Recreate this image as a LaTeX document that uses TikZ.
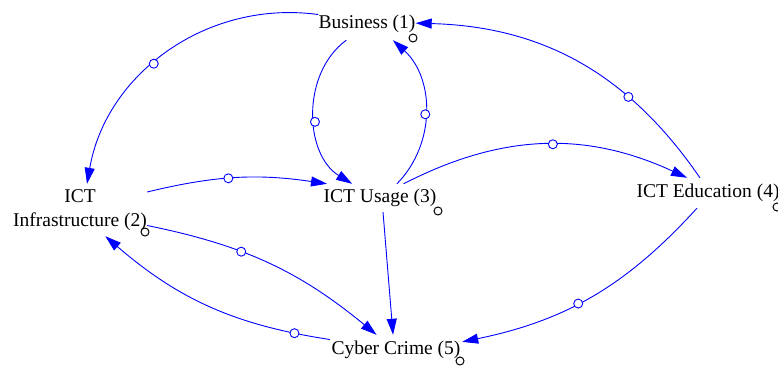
\documentclass[tikz,border=0pt]{standalone}
\usepackage{fontspec}
\setmainfont{Liberation Serif}
\usetikzlibrary{arrows.meta}
\definecolor{linkblue}{RGB}{0,0,255}
\tikzstyle{var} = [rectangle, inner sep=0pt, text centered, font=\fontsize{19.5}{24}\selectfont]
\tikzstyle{link} = [draw=linkblue, line width=0.9pt, -{Triangle[length=16pt,width=10pt]}]
\tikzstyle{valve} = [circle, draw=linkblue, fill=white, line width=0.9pt, inner sep=0pt, minimum size=9pt]
\tikzstyle{handle} = [draw=black, line width=1pt, fill=white]

\begin{document}
\begin{tikzpicture}
[x=1pt, y=1pt]
\useasboundingbox (0,0) rectangle (778,365);

\node (bus) [var, minimum width=96pt, minimum height=32pt] at (367,341) {Business (1)};
\node (inf) [var, align=center, minimum width=134pt, minimum height=52pt] at (80,155) {ICT\\Infrastructure (2)};
\node (use) [var, minimum width=114pt, minimum height=28pt] at (380,167) {ICT Usage (3)};
\node (edu) [var, minimum width=140pt, minimum height=30pt] at (708,172) {ICT Education (4)};
\node (cyb) [var, minimum width=132pt, minimum height=30pt] at (396,15) {Cyber Crime (5)};

\draw [link] (bus.169) to [bend right=44] node [valve, pos=0.56] {} (inf.75);
\draw [link] (bus.218) to [bend right=56] node [valve, pos=0.55] {} (use.153);
\draw [link] (use.40) to [bend right=46] node [valve, pos=0.48] {} (bus.328);
\draw [link] (inf.15) to [bend left=11] node [valve, pos=0.45] {} (use.165);
\draw [link] (use.31) to [bend left=26] node [valve, pos=0.53] {} (edu.144);
\draw [link] (edu.118) to [bend right=27] node [valve, pos=0.31] {} (bus.1);
\draw [link] (use.282) -- (cyb.101);
\draw [link] (inf.347) to [bend left=14] node [valve, pos=0.37] {} (cyb.142);
\draw [link] (cyb.171) to [bend left=16] node [valve, pos=0.13] {} (inf.314);
\draw [link] (edu.234) to [bend left=18] node [valve, pos=0.56] {} (cyb.7);

\draw [handle] (413,327) circle (4pt);
\draw [handle] (145,133) circle (4pt);
\draw [handle] (438,154) circle (4pt);
\draw [handle] (777,158) circle (4pt);
\draw [handle] (460,4) circle (4pt);

\end{tikzpicture}
\end{document}
